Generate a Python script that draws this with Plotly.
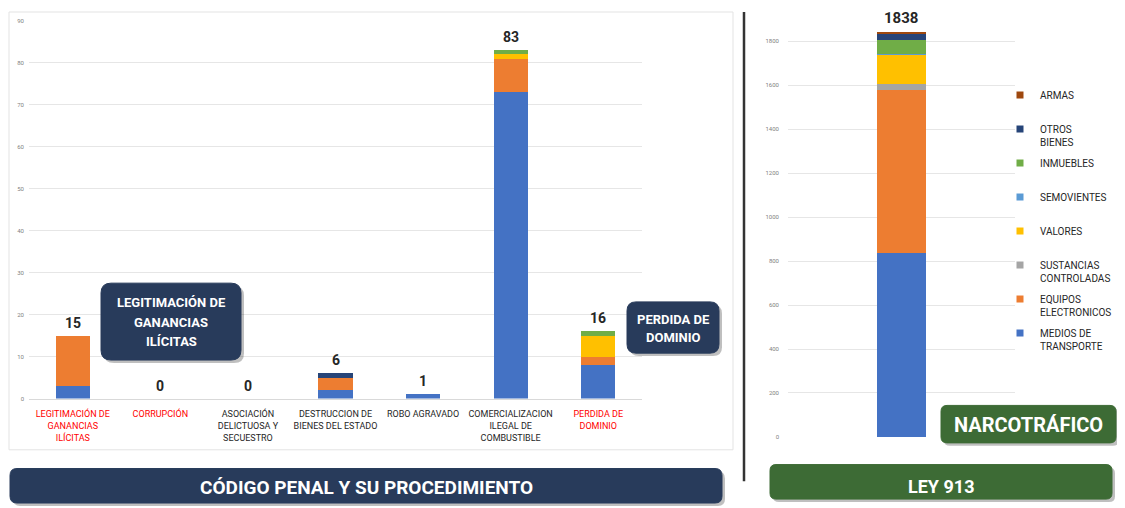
import plotly.graph_objects as go

# The page body has an 8px margin, so the figure is sized to fit the window
OFF = 8
W, H = 1125 - OFF, 508 - OFF

# ---------------- DATA ----------------
left_categories = [
    "LEGITIMACIÓN DE GANANCIAS ILÍCITAS", "CORRUPCIÓN", "ASOCIACIÓN DELICTUOSA Y SECUESTRO",
    "DESTRUCCION DE BIENES DEL ESTADO", "ROBO AGRAVADO",
    "COMERCIALIZACION ILEGAL DE COMBUSTIBLE", "PERDIDA DE DOMINIO",
]
left_tick_lines = [
    ["LEGITIMACIÓN DE", "GANANCIAS", "ILÍCITAS"],
    ["CORRUPCIÓN"],
    ["ASOCIACIÓN", "DELICTUOSA Y", "SECUESTRO"],
    ["DESTRUCCION DE", "BIENES DEL ESTADO"],
    ["ROBO AGRAVADO"],
    ["COMERCIALIZACION", "ILEGAL DE", "COMBUSTIBLE"],
    ["PERDIDA DE", "DOMINIO"],
]
left_tick_red = [True, True, False, False, False, False, True]

left_medios = [3, 0, 0, 2, 1, 73, 8]
left_equipos = [12, 0, 0, 3, 0, 8, 2]
left_valores = [0, 0, 0, 0, 0, 1, 5]
left_inmuebles = [0, 0, 0, 0, 0, 1, 1]
left_otros = [0, 0, 0, 1, 0, 0, 0]
left_totals = [15, 0, 0, 6, 1, 83, 16]
left_yticks = [0, 10, 20, 30, 40, 50, 60, 70, 80, 90]

right_category = ["NARCOTRÁFICO"]
right_series = ["MEDIOS DE TRANSPORTE", "EQUIPOS ELECTRONICOS", "SUSTANCIAS CONTROLADAS",
                "VALORES", "SEMOVIENTES", "INMUEBLES", "OTROS BIENES", "ARMAS"]
right_legend_labels = ["MEDIOS DE<br>TRANSPORTE", "EQUIPOS<br>ELECTRONICOS", "SUSTANCIAS<br>CONTROLADAS",
                       "VALORES<br> ", "SEMOVIENTES<br> ", "INMUEBLES<br> ", "OTROS<br>BIENES", "ARMAS<br> "]
right_values = [835, 745, 25, 135, 2, 62, 28, 6]
right_total = [1838]
right_yticks = [0, 200, 400, 600, 800, 1000, 1200, 1400, 1600, 1800]

# ---------------- STYLE ----------------
series_colors = {
    "MEDIOS DE TRANSPORTE": "#4472C4",
    "EQUIPOS ELECTRONICOS": "#ED7D31",
    "SUSTANCIAS CONTROLADAS": "#A5A5A5",
    "VALORES": "#FFC000",
    "SEMOVIENTES": "#5B9BD5",
    "INMUEBLES": "#70AD47",
    "OTROS BIENES": "#264478",
    "ARMAS": "#9E480E",
}
NAVY = "#283B5B"
GREEN = "#3D6B35"
FONT = "Roboto, 'Liberation Sans', sans-serif"


def px(x):
    return (x - OFF) / W


def py(y):
    return 1 - (y - OFF) / H


fig = go.Figure()

left_stack = [
    ("MEDIOS DE TRANSPORTE", left_medios),
    ("EQUIPOS ELECTRONICOS", left_equipos),
    ("VALORES", left_valores),
    ("INMUEBLES", left_inmuebles),
    ("OTROS BIENES", left_otros),
]
for name, vals in left_stack:
    fig.add_trace(go.Bar(x=left_categories, y=vals, name=name, marker_color=series_colors[name],
                         marker_line_width=0, xaxis="x", yaxis="y", showlegend=False,
                         hoverinfo="x+y+name"))

for name, val in zip(right_series, right_values):
    fig.add_trace(go.Bar(x=right_category, y=[val], name=name, marker_color=series_colors[name],
                         marker_line_width=0, xaxis="x2", yaxis="y2", showlegend=False, width=0.22))

# legend entries (small square markers), ARMAS first
for name, label in reversed(list(zip(right_series, right_legend_labels))):
    fig.add_trace(go.Scatter(x=[None], y=[None], mode="markers", name=label,
                             legendgroup=name, xaxis="x2", yaxis="y2",
                             marker=dict(symbol="square", size=7, color=series_colors[name])))

# tick texts
ticktext = []
for lines, red in zip(left_tick_lines, left_tick_red):
    col = "#FF0000" if red else "#262626"
    ticktext.append("<br>".join(f"<span style='color:{col}'>{l}</span>" for l in lines))

annotations = []
for c, t in zip(left_categories, left_totals):
    annotations.append(dict(x=c, y=t, xref="x", yref="y", text=f"<b>{t}</b>", showarrow=False,
                            yanchor="bottom", yshift=3, font=dict(size=14, color="#262626", family=FONT)))
annotations.append(dict(x=right_category[0], y=right_total[0], xref="x2", yref="y2",
                        text=f"<b>{right_total[0]}</b>", showarrow=False, yanchor="bottom", yshift=4,
                        font=dict(size=15, color="#262626", family=FONT)))


def rrect(x0, y0, x1, y1, r):
    X0, X1 = px(x0), px(x1)
    Y0, Y1 = py(y0), py(y1)
    rx, ry = r / W, r / H
    return (f"M{X0+rx},{Y0} L{X1-rx},{Y0} Q{X1},{Y0} {X1},{Y0-ry} L{X1},{Y1+ry} "
            f"Q{X1},{Y1} {X1-rx},{Y1} L{X0+rx},{Y1} Q{X0},{Y1} {X0},{Y1+ry} L{X0},{Y0-ry} "
            f"Q{X0},{Y0} {X0+rx},{Y0} Z")


shapes = []
# left frame
shapes.append(dict(type="rect", xref="paper", yref="paper", x0=px(9), x1=px(733), y0=py(452), y1=py(8),
                   line=dict(color="#E3E3E3", width=1), layer="below"))
# right frame edge
shapes.append(dict(type="line", xref="paper", yref="paper", x0=px(1122), x1=px(1122), y0=py(452), y1=py(8),
                   line=dict(color="#E6E6E6", width=1), layer="below"))
# divider
shapes.append(dict(type="line", xref="paper", yref="paper", x0=px(744), x1=px(744), y0=py(484), y1=py(8),
                   line=dict(color="#333333", width=2.5)))


def box(x0, y0, x1, y1, color, r=8):
    shapes.append(dict(type="path", xref="paper", yref="paper", path=rrect(x0 + 3, y0 + 3, x1 + 3, y1 + 3, r),
                       fillcolor="rgba(0,0,0,0.25)", line=dict(width=0)))
    shapes.append(dict(type="path", xref="paper", yref="paper", path=rrect(x0, y0, x1, y1, r),
                       fillcolor=color, line=dict(color=color, width=1)))


box(101, 283, 241, 361, NAVY, 10)
box(627, 302, 719, 354, NAVY, 9)
box(941, 407, 1116, 445, GREEN, 6)
box(10, 471, 722, 506, NAVY, 7)
box(770, 467, 1112, 502, GREEN, 6)

txt = [
    (171, 303, "<b>LEGITIMACIÓN DE</b>", 13),
    (171, 323, "<b>GANANCIAS</b>", 13),
    (171, 342, "<b>ILÍCITAS</b>", 13),
    (673, 320, "<b>PERDIDA DE</b>", 13),
    (673, 338, "<b>DOMINIO</b>", 13),
    (1028, 427, "<b>NARCOTRÁFICO</b>", 20),
    (366, 490, "<b>CÓDIGO PENAL Y SU PROCEDIMIENTO</b>", 19),
    (941, 489, "<b>LEY 913</b>", 18),
]
for x, y, t, s in txt:
    annotations.append(dict(x=px(x), y=py(y), xref="paper", yref="paper", text=t, showarrow=False,
                            xanchor="center", yanchor="middle", align="center",
                            font=dict(size=s, color="white", family=FONT)))

fig.update_layout(
    width=W, height=H,
    margin=dict(l=0, r=0, t=0, b=0),
    paper_bgcolor="white", plot_bgcolor="white",
    barmode="stack",
    bargap=0.61,
    bargroupgap=0,
    font=dict(family=FONT, color="#262626"),
    xaxis=dict(domain=[px(29), px(642)], anchor="y", tickmode="array", tickvals=left_categories,
               ticktext=ticktext, tickfont=dict(size=9, family=FONT), tickangle=0, ticks="",
               ticklabelstandoff=7, showgrid=False, showline=True, linecolor="#D9D9D9", linewidth=1,
               categoryorder="array", categoryarray=left_categories, fixedrange=True),
    yaxis=dict(domain=[py(400), py(17)], anchor="x", range=[0, 90], tickvals=left_yticks,
               tickfont=dict(size=6, color="#7F7F7F"), showgrid=True, gridcolor="#E6E6E6",
               gridwidth=1, zeroline=False, ticks="", ticklabelstandoff=4, fixedrange=True),
    xaxis2=dict(domain=[px(788), px(1015)], anchor="y2", showticklabels=False, ticks="",
                showgrid=False, showline=False, fixedrange=True),
    yaxis2=dict(domain=[py(439), py(15.4)], anchor="x2", range=[0, 1900], tickvals=right_yticks,
                tickfont=dict(size=6, color="#7F7F7F"), showgrid=True, gridcolor="#E6E6E6",
                gridwidth=1, zeroline=False, ticks="", ticklabelstandoff=8, fixedrange=True),
    legend=dict(x=px(1000), y=py(79), xanchor="left", yanchor="top", valign="top",
                font=dict(size=10, color="#262626", family=FONT), tracegroupgap=5,
                bgcolor="rgba(0,0,0,0)", itemclick=False),
    shapes=shapes,
    annotations=annotations,
    showlegend=True,
)

fig.write_html("out.html")
